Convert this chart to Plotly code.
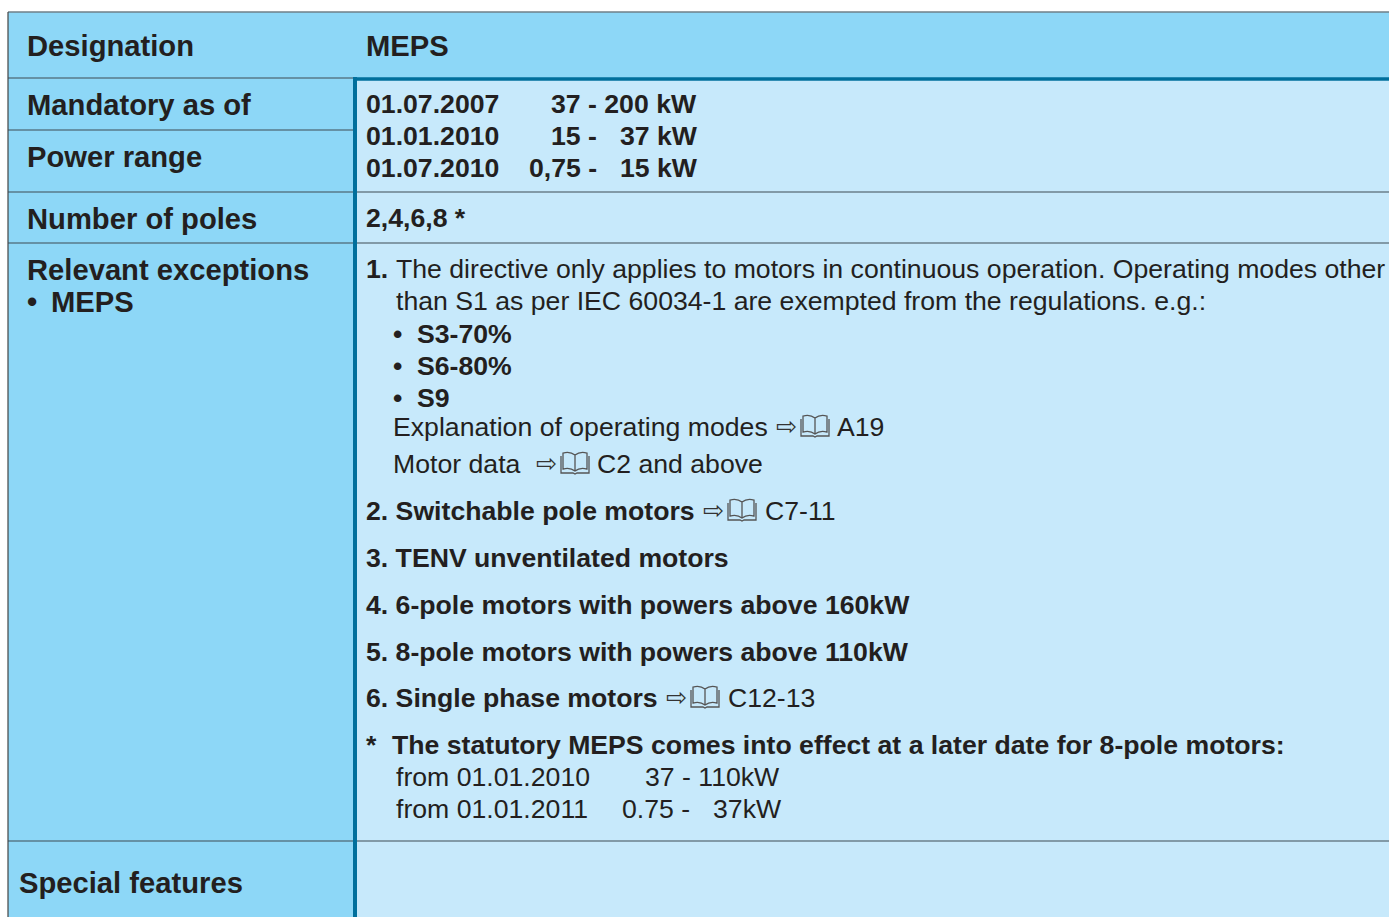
import plotly.graph_objects as go

FONT = "Liberation Sans"
INK = "#231F20"
LABEL_BG = "#8DD7F7"
VALUE_BG = "#C7E9FB"
ACCENT = "#006F9C"
RULE = "#3F4D55"

# Table text content
labels = ["Designation", "MEPS", "Mandatory as of", "Power range", "Number of poles",
          "Relevant exceptions", "•", "MEPS", "Special features"]
label_x = [27, 366, 27, 27, 27, 27, 27, 51, 19]
label_y = [46, 46, 105, 157, 219, 270, 302, 302, 883]

bold_cells = ["01.07.2007", "37 - 200 kW", "01.01.2010", "15 -", "37 kW", "01.07.2010", "0,75 -", "15 kW",
              "2,4,6,8 *", "1.", "•", "S3-70%", "•", "S6-80%", "•", "S9",
              "2. Switchable pole motors", "3. TENV unventilated motors",
              "4. 6-pole motors with powers above 160kW", "5. 8-pole motors with powers above 110kW",
              "6. Single phase motors", "*", "The statutory MEPS comes into effect at a later date for 8-pole motors:"]
bold_x = [366, 551, 366, 551, 620, 366, 529, 620,
          366, 366, 393, 417, 393, 417, 393, 417,
          366, 366, 366, 366, 366, 366, 392]
bold_y = [104, 104, 136, 136, 136, 168, 168, 168,
          218, 269, 334, 334, 366, 366, 398, 398,
          511, 558, 605, 652, 698, 745, 745]

plain_cells = ["The directive only applies to motors in continuous operation. Operating modes other",
               "than S1 as per IEC 60034-1 are exempted from the regulations. e.g.:",
               "Explanation of operating modes", "A19", "Motor data", "C2 and above", "C7-11", "C12-13",
               "from 01.01.2010", "37 - 110kW", "from 01.01.2011", "0.75 -", "37kW"]
plain_x = [396, 396, 393, 837, 393, 597, 765, 728, 396, 645, 396, 622, 713]
plain_y = [269, 301, 427, 427, 464, 464, 511, 698, 777, 777, 809, 809, 809]

# Cross-reference icons: arrow left edge, book left edge, row centre
ref_arrow_x = [776, 536, 703, 666]
ref_book_x = [801, 561, 728, 691]
ref_y = [426, 463, 510, 697]

# Table geometry
W, H = 1389, 917
frame_left, frame_top, divider_x, header_bottom = 8, 12, 355, 79
full_rules = [192, 243, 841]
left_rules = [78, 130]

fig = go.Figure()
shapes = [
    dict(type="rect", x0=frame_left, x1=W, y0=frame_top, y1=H, fillcolor=LABEL_BG, line_width=0, layer="below"),
    dict(type="rect", x0=divider_x, x1=W, y0=header_bottom, y1=H, fillcolor=VALUE_BG, line_width=0, layer="below"),
    dict(type="line", x0=frame_left, x1=W, y0=frame_top, y1=frame_top, line=dict(color="#6F7F88", width=1.5)),
    dict(type="line", x0=frame_left, x1=frame_left, y0=frame_top, y1=H, line=dict(color="#444444", width=1.2)),
]
for y in full_rules:
    shapes.append(dict(type="line", x0=frame_left, x1=W, y0=y, y1=y, line=dict(color=RULE, width=1.2)))
for y in left_rules:
    shapes.append(dict(type="line", x0=frame_left, x1=divider_x, y0=y, y1=y, line=dict(color=RULE, width=1.2)))
shapes.append(dict(type="line", x0=divider_x, x1=divider_x, y0=header_bottom - 2, y1=H, line=dict(color=ACCENT, width=4)))
shapes.append(dict(type="line", x0=divider_x - 2, x1=W, y0=header_bottom, y1=header_bottom, line=dict(color=ACCENT, width=3.4)))


def book_path(x, yc):
    t = yc - 11
    b = yc + 10
    return (f"M {x+2} {t+1} Q {x+9} {t-1} {x+14} {t+3} Q {x+19} {t-1} {x+26} {t+1} L {x+26} {b-4} "
            f"Q {x+19} {b-6} {x+14} {b-2} Q {x+9} {b-6} {x+2} {b-4} Z "
            f"M {x+14} {t+3} L {x+14} {b-2} "
            f"M {x} {t+4} L {x} {b} L {x+12} {b} L {x+14} {b+1} L {x+16} {b} L {x+28} {b} L {x+28} {t+4}")


for bx, ry in zip(ref_book_x, ref_y):
    shapes.append(dict(type="path", path=book_path(bx, ry), line=dict(color="#555555", width=1.3)))

ann = []


def add(text, x, y, size, bold=False, family=FONT, color=INK):
    ann.append(dict(text=f"<b>{text}</b>" if bold else text, x=x, y=y, xref="x", yref="y",
                    xanchor="left", yanchor="middle", showarrow=False, align="left",
                    font=dict(family=family, size=size, color=color),
                    borderpad=0, borderwidth=0))


for t, x, y in zip(labels, label_x, label_y):
    add(t, x, y, 29.2, True)
for t, x, y in zip(bold_cells, bold_x, bold_y):
    add(t, x, y, 26.65, True)
for t, x, y in zip(plain_cells, plain_x, plain_y):
    add(t, x, y, 26.65)
for x, y in zip(ref_arrow_x, ref_y):
    add("⇨", x, y, 25, family="DejaVu Sans", color="#333333")

fig.update_layout(
    width=W, height=H, margin=dict(l=0, r=0, t=0, b=0), autosize=False,
    paper_bgcolor="white", plot_bgcolor="white", showlegend=False,
    xaxis=dict(range=[0, W], visible=False, fixedrange=True),
    yaxis=dict(range=[H, 0], visible=False, fixedrange=True),
    shapes=shapes, annotations=ann,
)
fig.write_html(
    "out.html",
    config={"displayModeBar": False},
    post_script="document.body.style.margin='0';document.documentElement.style.overflow='hidden';",
)
